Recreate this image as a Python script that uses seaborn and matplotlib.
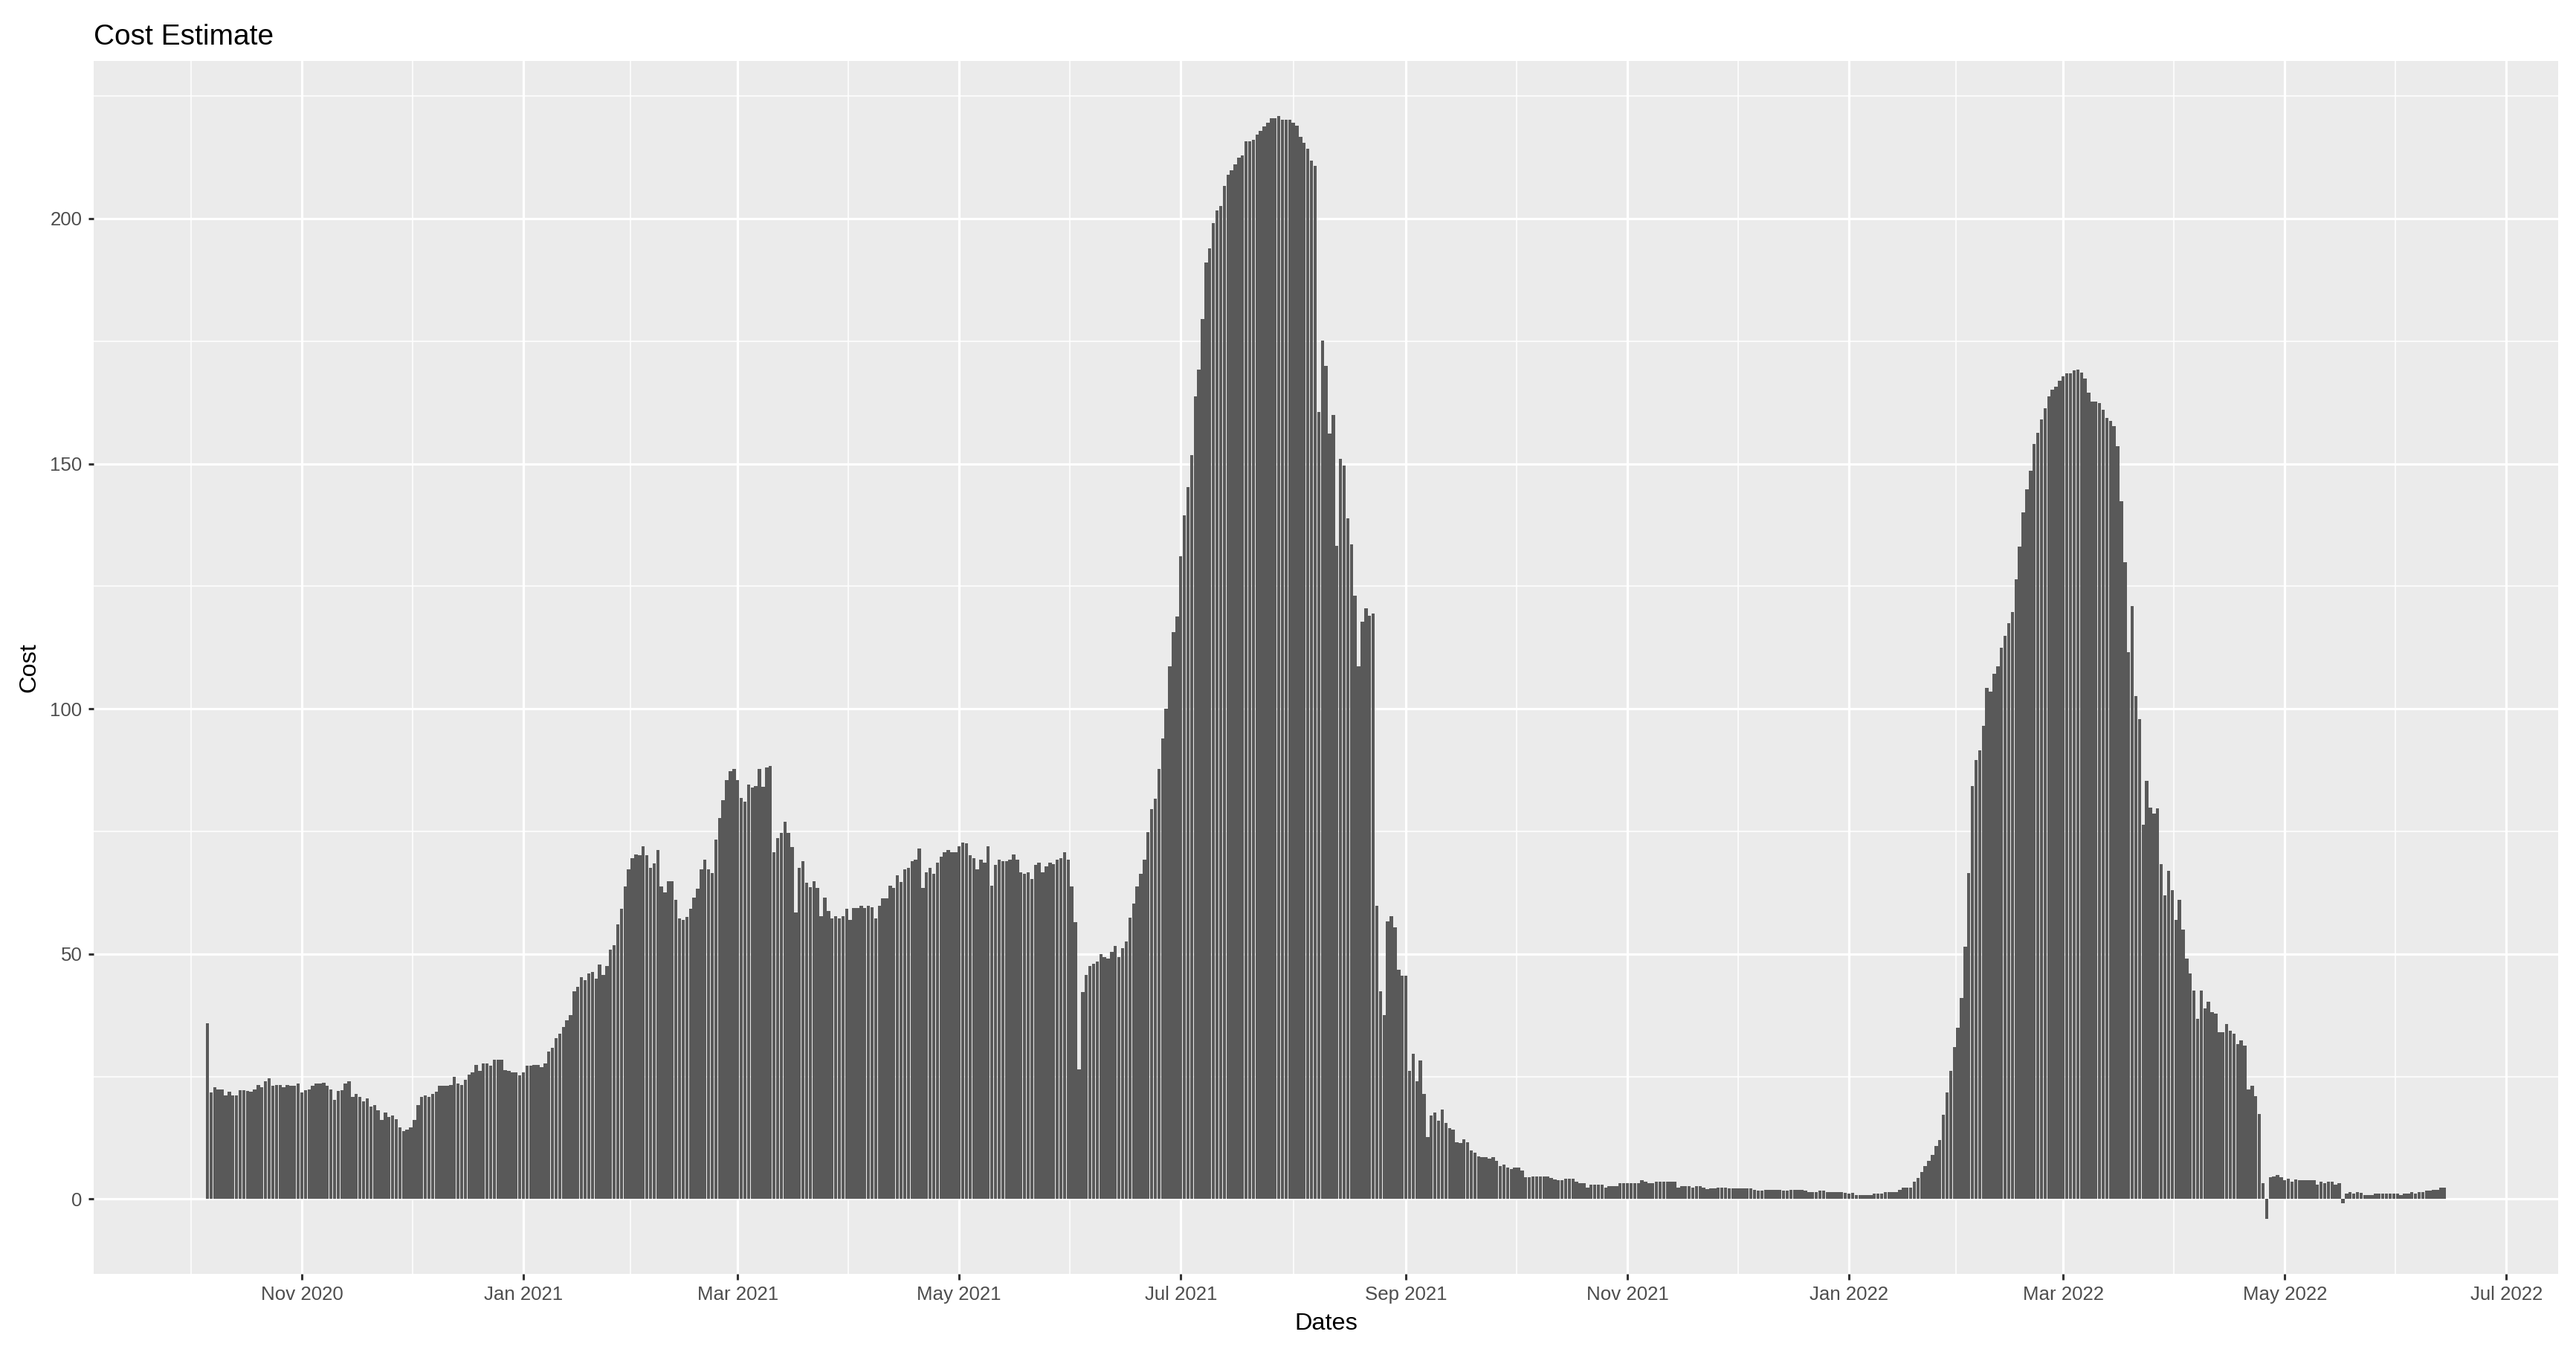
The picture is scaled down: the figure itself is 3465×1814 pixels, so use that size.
import numpy as np
import pandas as pd
import matplotlib
matplotlib.use("Agg")
import matplotlib.pyplot as plt
import matplotlib.dates as mdates
from matplotlib.ticker import MultipleLocator, FixedLocator
import seaborn as sns

# daily cost estimate, one value per day starting at first_day
first_day = "2020-10-06"
cost = [
    35.9, 21.7, 22.8, 22.3, 22.4, 21.2, 21.9, 21.2, 21.2, 22.2,   # Oct 2020
    22.2, 22.1, 21.9, 22.4, 23.3, 22.8, 24.0, 24.7, 23.2, 23.3,
    23.3, 22.8, 23.3, 23.1, 23.1, 23.6, 21.7, 22.2, 22.4, 23.1,   # Nov 2020
    23.6, 23.6, 23.8, 23.1, 22.4, 20.3, 22.0, 22.2, 23.6, 24.0,
    20.8, 21.5, 20.8, 19.9, 20.6, 18.9, 19.2, 18.1, 16.2, 17.6,
    16.8, 17.0, 16.3, 14.7, 13.8, 14.2, 14.6, 16.2, 19.2, 20.8,   # Dec 2020
    21.2, 20.8, 21.5, 21.9, 23.1, 23.1, 23.1, 23.3, 25.0, 23.6,
    23.3, 24.4, 25.4, 25.8, 27.4, 26.1, 27.7, 27.7, 27.2, 28.5,
    28.5, 28.5, 26.3, 26.1, 25.8, 25.8, 25.3, 25.8, 27.2, 27.2,   # Jan 2021
    27.4, 27.4, 26.9, 27.7, 30.1, 30.9, 32.9, 33.7, 35.1, 36.4,
    37.5, 42.4, 43.3, 45.2, 44.7, 46.0, 46.3, 44.9, 47.9, 45.7,
    47.6, 50.9, 51.8, 56.1, 59.2, 63.8, 67.3, 69.6, 70.3, 70.1,   # Feb 2021
    72.0, 70.1, 67.6, 68.5, 71.2, 63.8, 62.5, 64.9, 64.9, 61.1,
    57.2, 56.9, 57.5, 59.2, 61.5, 63.3, 67.3, 69.2, 67.3, 66.5,
    73.4, 77.8, 81.3, 85.4, 87.3, 87.8, 85.4, 81.9, 81.1, 84.5,   # Mar 2021
    84.0, 84.3, 87.8, 84.1, 88.1, 88.3, 70.8, 73.6, 74.7, 76.9,
    74.7, 71.8, 58.5, 67.6, 68.9, 64.6, 63.6, 64.9, 63.5, 57.7,
    61.5, 58.8, 57.2, 57.7, 57.2, 57.7, 59.2, 56.9, 59.4, 59.4,   # Apr 2021
    59.9, 59.4, 59.9, 59.6, 57.3, 59.9, 61.3, 61.3, 64.0, 63.5,
    66.1, 64.7, 67.2, 67.6, 68.9, 69.3, 71.5, 63.5, 66.7, 67.6,
    66.4, 68.6, 69.8, 70.8, 71.2, 70.8, 70.8, 71.9, 72.7, 72.5,   # May 2021
    70.1, 69.6, 67.2, 69.3, 68.6, 71.9, 64.0, 68.2, 69.3, 68.9,
    68.9, 69.3, 70.3, 69.3, 66.7, 66.4, 66.7, 65.3, 68.2, 68.6,
    66.7, 67.9, 68.6, 68.3, 69.3, 69.6, 70.8, 69.3, 63.8, 56.5,   # Jun 2021
    26.5, 42.2, 45.8, 47.5, 48.0, 48.5, 50.0, 49.4, 49.0, 50.4,
    51.6, 49.3, 51.2, 52.6, 57.4, 60.3, 63.8, 66.4, 69.3, 74.9,
    79.5, 81.7, 87.8, 94.0, 100.1, 108.6, 115.6, 118.8, 131.1, 139.4,   # Jul 2021
    145.3, 151.7, 163.8, 169.2, 179.5, 191.1, 193.9, 199.1, 201.6, 202.6,
    206.7, 208.9, 209.9, 211.0, 212.5, 212.9, 215.7, 215.7, 216.1, 217.2,
    217.9, 218.8, 219.5, 220.5, 220.5, 220.9, 220.2, 220.2, 220.2, 219.5,
    219.0, 216.6, 215.4, 214.2, 211.8, 210.8, 160.6, 175.1, 169.9, 156.2,   # Aug 2021
    159.9, 133.3, 151.0, 149.7, 138.8, 133.6, 123.1, 108.6, 117.7, 120.5,
    119.0, 119.5, 59.9, 42.4, 37.6, 56.7, 57.7, 55.5, 46.8, 45.6,
    45.6, 26.2, 29.7, 24.0, 28.3, 21.4, 12.6, 17.0, 17.7, 16.0,   # Sep 2021
    18.2, 15.6, 14.5, 14.1, 11.6, 11.5, 12.2, 11.6, 10.0, 9.4,
    8.7, 8.6, 8.6, 8.3, 8.6, 7.8, 6.8, 7.1, 6.5, 6.1,
    6.4, 6.4, 5.8, 4.4, 4.4, 4.6, 4.6, 4.6, 4.6, 4.6,   # Oct 2021
    4.3, 4.0, 3.8, 3.8, 4.1, 4.1, 4.1, 3.6, 3.2, 3.2,
    2.4, 2.9, 2.9, 2.9, 2.9, 2.4, 2.7, 2.7, 2.7, 3.3,
    3.2, 3.2, 3.3, 3.3, 3.3, 3.8, 3.6, 3.3, 3.3, 3.6,   # Nov 2021
    3.6, 3.6, 3.6, 3.6, 3.6, 2.3, 2.7, 2.7, 2.7, 2.3,
    2.7, 2.7, 2.4, 2.0, 2.2, 2.2, 2.4, 2.4, 2.4, 2.2,
    2.2, 2.2, 2.2, 2.2, 2.2, 2.2, 1.9, 1.7, 1.7, 1.9,   # Dec 2021
    1.9, 1.9, 1.9, 1.9, 1.7, 1.7, 1.9, 1.9, 1.9, 1.9,
    1.7, 1.4, 1.4, 1.4, 1.7, 1.7, 1.4, 1.4, 1.4, 1.4,
    1.4, 1.3, 1.1, 1.3, 0.9, 0.9, 0.9, 0.9, 0.9, 1.2,   # Jan 2022
    1.2, 1.2, 1.5, 1.5, 1.5, 1.5, 1.9, 2.3, 2.3, 2.3,
    3.5, 4.3, 5.5, 6.7, 7.8, 9.0, 10.8, 12.0, 17.2, 21.7,
    26.2, 31.0, 34.9, 41.0, 51.5, 66.5, 84.3, 89.5, 91.6, 96.5,   # Feb 2022
    104.3, 103.5, 107.2, 108.7, 112.4, 114.9, 117.4, 119.8, 126.4, 133.1,
    140.1, 144.8, 148.6, 154.0, 156.3, 159.1, 161.3, 163.7, 165.1, 165.7,
    166.9, 167.8, 168.4, 168.4, 169.0, 169.2, 168.6, 167.3, 164.5, 162.7,   # Mar 2022
    162.7, 162.4, 161.0, 159.3, 158.7, 157.6, 153.5, 142.4, 129.9, 111.6,
    120.9, 102.6, 97.9, 76.4, 85.3, 79.9, 78.7, 79.7, 68.3, 62.0,
    66.9, 63.0, 57.0, 61.0, 55.0, 49.0, 46.0, 42.5, 36.8, 42.5,   # Apr 2022
    38.9, 40.3, 38.1, 37.9, 34.1, 34.1, 35.7, 34.3, 33.7, 31.6,
    32.4, 31.3, 22.3, 23.1, 21.0, 17.4, 3.3, -4.0, 4.5, 4.6,
    4.9, 4.5, 3.8, 4.1, 3.6, 4.0, 3.8, 3.8, 3.8, 3.8,   # May 2022
    3.8, 3.0, 3.6, 3.3, 3.6, 3.6, 3.0, 3.3, -0.8, 1.2,
    1.4, 1.2, 1.4, 1.3, 0.9, 0.9, 0.9, 1.2, 1.2, 1.2,
    1.2, 1.2, 1.2, 1.2, 0.9, 1.2, 1.2, 1.4, 1.2, 1.4,   # Jun 2022
    1.4, 1.7, 1.7, 1.9, 1.9, 2.3, 2.3,
]
y_ticks = [0, 50, 100, 150, 200]
tick_months = [1, 3, 5, 7, 9, 11]

dates = pd.date_range(first_day, periods=len(cost), freq="D")
df = pd.DataFrame({"Dates": mdates.date2num(dates), "Cost": cost})

sns.set_theme(style="darkgrid", rc={
    "axes.facecolor": "#EBEBEB",
    "figure.facecolor": "white",
    "grid.color": "white",
})
plt.rcParams["font.family"] = ["Liberation Sans", "DejaVu Sans"]

fig, ax = plt.subplots(figsize=(17.325, 9.07), dpi=200)
fig.subplots_adjust(left=0.0364, right=0.9931, bottom=0.0557, top=0.9548)

# no antialiasing so the thin gaps snap to whole pixels, like the R device
sns.barplot(data=df, x="Dates", y="Cost", orient="x", native_scale=True,
            width=0.9, color="#595959", saturation=1, errorbar=None,
            linewidth=0, antialiased=False, ax=ax)

# ggplot-like expansion of 5% on both axes
x0 = df["Dates"].min() - 0.45
x1 = df["Dates"].max() + 0.45
span = x1 - x0
ax.set_xlim(x0 - 0.05 * span, x1 + 0.05 * span)
lo = min(0, min(cost))
hi = max(cost)
rng = hi - lo
ax.set_ylim(lo - 0.05 * rng, hi + 0.05 * rng)

ax.xaxis.set_major_locator(mdates.MonthLocator(bymonth=tick_months))
ax.xaxis.set_major_formatter(mdates.DateFormatter("%b %Y"))
majors = mdates.date2num(pd.date_range("2020-09-01", "2022-09-01", freq="2MS"))
ax.xaxis.set_minor_locator(FixedLocator((majors[:-1] + majors[1:]) / 2))
ax.yaxis.set_major_locator(FixedLocator(y_ticks))
ax.yaxis.set_minor_locator(MultipleLocator(25))

ax.set_axisbelow(True)
ax.grid(which="major", color="white", linewidth=1.13)
ax.grid(which="minor", color="white", linewidth=0.57)
for s in ax.spines.values():
    s.set_visible(False)

ax.tick_params(which="major", length=2.7, width=1.1, color="#333333",
               labelcolor="#4D4D4D", labelsize=9.3, pad=2.9,
               bottom=True, left=True)
ax.tick_params(which="minor", length=0)

ax.set_title("Cost Estimate", loc="left", fontsize=14, color="black", pad=7.9)
ax.set_xlabel("Dates", fontsize=11.7, color="black", labelpad=4.5)
ax.set_ylabel("Cost", fontsize=11.7, color="black", labelpad=4.5)

fig.savefig("out.png", dpi=200)
